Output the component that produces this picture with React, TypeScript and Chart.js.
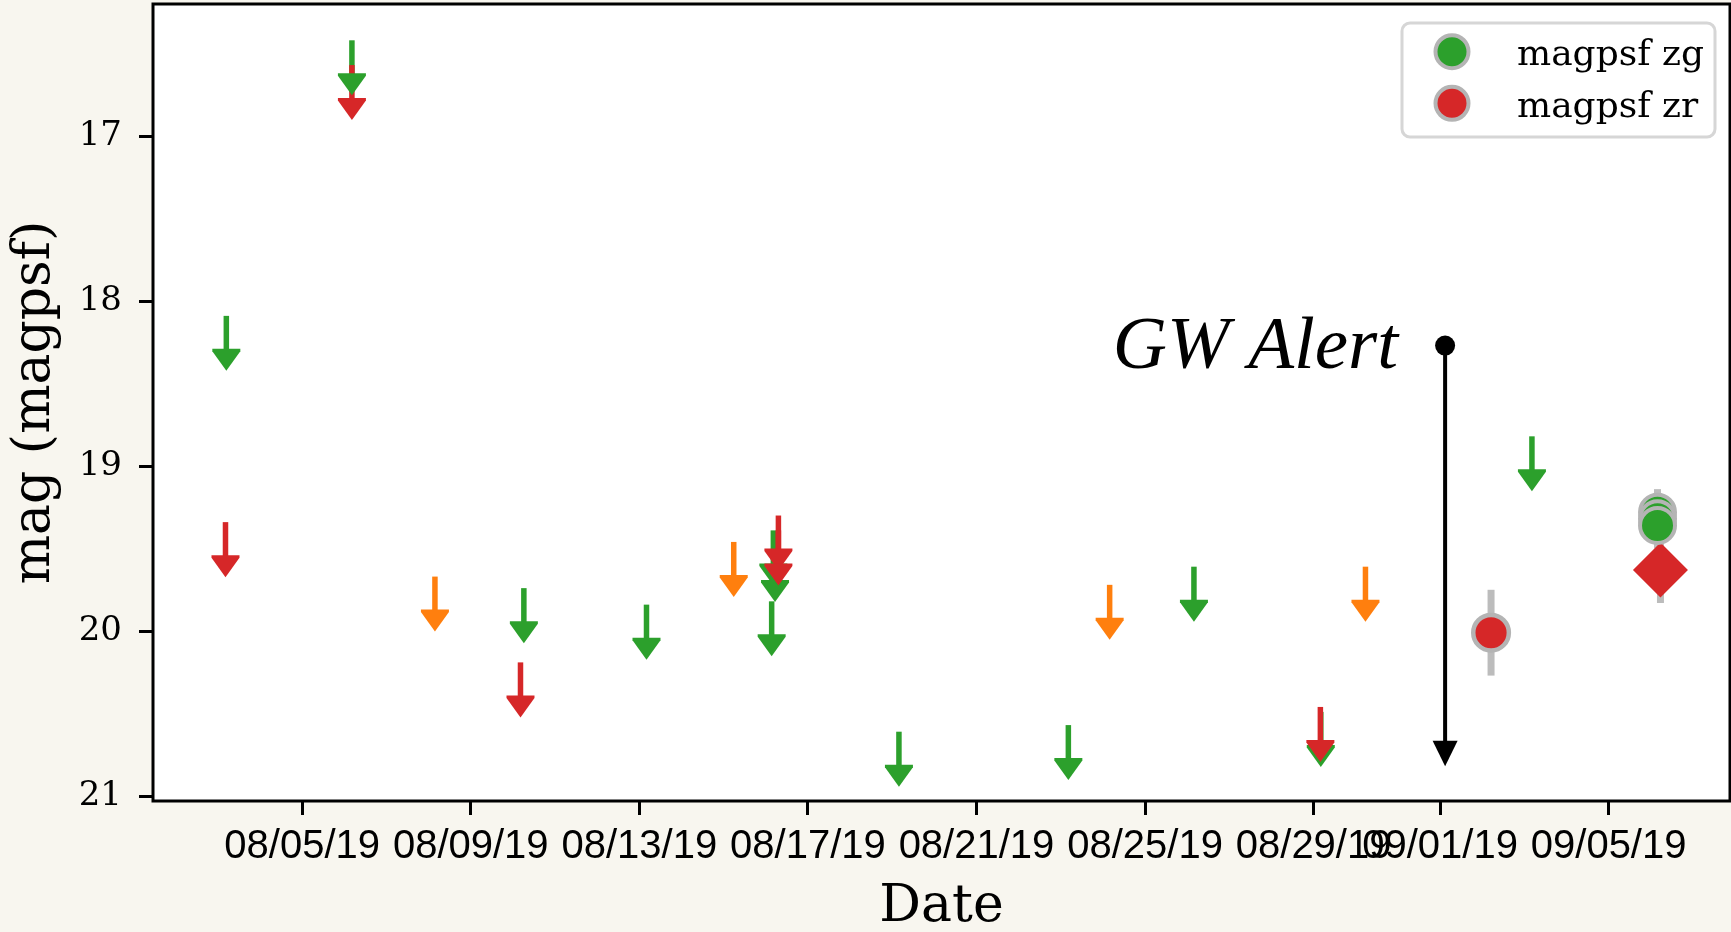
import { useEffect, useRef } from 'react';
import { Chart, registerables } from 'chart.js';

Chart.register(...registerables);

// Days are counted from 31 July 2019 (1 = Aug 1, 32 = Sep 1).
const TICK_DAYS = [5, 9, 13, 17, 21, 25, 29, 32, 36];
const TICK_LABELS = ['08/05/19', '08/09/19', '08/13/19', '08/17/19', '08/21/19', '08/25/19', '08/29/19', '09/01/19', '09/05/19'];
const MAG_TICKS = [17, 18, 19, 20, 21];

const X_MIN = 1.46;
const X_MAX = 38.88;
const Y_MIN = 16.2;
const Y_MAX = 21.03;

// Non-detection upper limits (top of each arrow)
const ZG_LIMIT_DAYS = [3.2, 6.18, 10.26, 13.17, 16.18, 16.22, 16.14, 19.16, 23.18, 26.16, 29.17, 34.18];
const ZG_LIMIT_MAGS = [18.09, 16.42, 19.74, 19.84, 19.39, 19.49, 19.82, 20.61, 20.57, 19.61, 20.49, 18.82];
const ZR_LIMIT_DAYS = [3.18, 6.18, 10.18, 16.3, 16.3, 29.16];
const ZR_LIMIT_MAGS = [19.34, 16.57, 20.19, 19.3, 19.39, 20.46];
const ZI_LIMIT_DAYS = [8.15, 15.24, 24.16, 30.23];
const ZI_LIMIT_MAGS = [19.67, 19.46, 19.72, 19.61];

// Detections with 1-sigma errors
const ZG_DAYS = [37.16, 37.16, 37.16];
const ZG_MAGS = [19.28, 19.32, 19.36];
const ZG_ERRS = [0.14, 0.14, 0.14];
const ZR_DAYS = [33.21];
const ZR_MAGS = [20.01];
const ZR_ERRS = [0.26];
const ZR_FORCED_DAYS = [37.23];
const ZR_FORCED_MAGS = [19.63];
const ZR_FORCED_ERRS = [0.2];

// Gravitational-wave alert marker
const ALERT_DAY = 32.12;
const ALERT_MAG_FROM = 18.27;
const ALERT_MAG_TO = 20.82;
const ALERT_TEXT = 'GW Alert';

const GREEN = '#2ca02c';
const RED = '#d62728';
const ORANGE = '#ff7f0e';
const EDGE = '#b4b4b4';
const PAGE_BG = '#f8f6ef';

const toPoints = (days: number[], mags: number[]) => days.map((d, i) => ({ x: d, y: mags[i] }));

function drawShaft(ctx: CanvasRenderingContext2D, x: number, y: number, color: string) {
  ctx.fillStyle = color;
  ctx.fillRect(x - 2.75, y, 5.5, 34);
}

function drawHead(ctx: CanvasRenderingContext2D, x: number, y: number, color: string) {
  ctx.fillStyle = color;
  ctx.beginPath();
  ctx.moveTo(x - 14, y + 33);
  ctx.lineTo(x + 14, y + 33);
  ctx.lineTo(x + 14, y + 35.5);
  ctx.lineTo(x, y + 55);
  ctx.lineTo(x - 14, y + 35.5);
  ctx.closePath();
  ctx.fill();
}

const lightcurvePlugin = {
  id: 'lightcurve',
  beforeDraw(chart: any) {
    const { ctx, chartArea: a } = chart;
    ctx.save();
    ctx.fillStyle = '#ffffff';
    ctx.fillRect(a.left, a.top, a.right - a.left, a.bottom - a.top);
    ctx.restore();
  },
  beforeDatasetsDraw(chart: any) {
    const { ctx } = chart;
    const ys = chart.scales.y;
    ctx.save();
    ctx.strokeStyle = '#bcbcbc';
    ctx.lineWidth = 7;
    chart.data.datasets.forEach((ds: any, i: number) => {
      if (!ds.errors) return;
      const meta = chart.getDatasetMeta(i);
      meta.data.forEach((pt: any, j: number) => {
        const m = ds.data[j].y;
        const e = ds.errors[j];
        ctx.beginPath();
        ctx.moveTo(pt.x, ys.getPixelForValue(m - e));
        ctx.lineTo(pt.x, ys.getPixelForValue(m + e));
        ctx.stroke();
      });
    });
    ctx.restore();
  },
  afterDatasetsDraw(chart: any) {
    const { ctx, chartArea: a } = chart;
    const xs = chart.scales.x;
    const ys = chart.scales.y;
    ctx.save();

    // upper-limit arrows: all shafts first, then all heads
    const limitSets = chart.data.datasets
      .map((ds: any, i: number) => ({ ds, meta: chart.getDatasetMeta(i) }))
      .filter((o: any) => o.ds.limit);
    for (const o of limitSets) {
      o.meta.data.forEach((pt: any) => drawShaft(ctx, pt.x, pt.y, o.ds.arrowColor));
    }
    for (const o of limitSets) {
      o.meta.data.forEach((pt: any) => drawHead(ctx, pt.x, pt.y, o.ds.arrowColor));
    }

    // GW alert annotation
    const ax = xs.getPixelForValue(ALERT_DAY);
    const ay0 = ys.getPixelForValue(ALERT_MAG_FROM);
    const ay1 = ys.getPixelForValue(ALERT_MAG_TO);
    ctx.strokeStyle = '#000';
    ctx.fillStyle = '#000';
    ctx.lineWidth = 4;
    ctx.beginPath();
    ctx.moveTo(ax, ay0);
    ctx.lineTo(ax, ay1 - 24);
    ctx.stroke();
    ctx.beginPath();
    ctx.moveTo(ax - 12.5, ay1 - 25.5);
    ctx.lineTo(ax + 12.5, ay1 - 25.5);
    ctx.lineTo(ax, ay1);
    ctx.closePath();
    ctx.fill();
    ctx.beginPath();
    ctx.arc(ax, ay0, 10, 0, Math.PI * 2);
    ctx.fill();
    ctx.font = 'italic 75px "Liberation Serif"';
    ctx.textAlign = 'right';
    ctx.textBaseline = 'alphabetic';
    ctx.fillText(ALERT_TEXT, ax - 47, ay0 + 22);

    // axes frame
    ctx.strokeStyle = '#000';
    ctx.lineWidth = 3;
    ctx.strokeRect(a.left, a.top, a.right - a.left, a.bottom - a.top);
    ctx.restore();
  },
  afterDraw(chart: any) {
    const { ctx } = chart;
    const entries = chart.data.datasets.filter((ds: any) => ds.legendLabel);
    const bx = 1402;
    const by = 23;
    const bw = 313;
    const bh = 114;
    ctx.save();
    ctx.beginPath();
    ctx.roundRect(bx, by, bw, bh, 8);
    ctx.fillStyle = 'rgba(255,255,255,0.85)';
    ctx.fill();
    ctx.strokeStyle = '#d6d6d6';
    ctx.lineWidth = 3;
    ctx.stroke();
    entries.forEach((ds: any, k: number) => {
      const cy = 51.7 + k * 51.6;
      ctx.beginPath();
      ctx.arc(1452, cy, 16.5, 0, Math.PI * 2);
      ctx.fillStyle = ds.backgroundColor;
      ctx.fill();
      ctx.lineWidth = 4;
      ctx.strokeStyle = EDGE;
      ctx.stroke();
      ctx.fillStyle = '#000';
      ctx.font = '36px "DejaVu Serif"';
      ctx.textAlign = 'left';
      ctx.textBaseline = 'alphabetic';
      ctx.fillText(ds.legendLabel, 1517, cy + 13.5);
    });
    ctx.restore();
  },
};

export default function App() {
  const canvasRef = useRef<HTMLCanvasElement | null>(null);

  useEffect(() => {
    document.body.style.margin = '0';
    document.body.style.overflow = 'hidden';
    document.body.style.background = PAGE_BG;
    const canvas = canvasRef.current;
    if (!canvas) return;

    const chart = new Chart(canvas, {
      type: 'scatter',
      data: {
        datasets: [
          { label: 'zg limits', data: toPoints(ZG_LIMIT_DAYS, ZG_LIMIT_MAGS), pointRadius: 0, limit: true, arrowColor: GREEN } as any,
          { label: 'zr limits', data: toPoints(ZR_LIMIT_DAYS, ZR_LIMIT_MAGS), pointRadius: 0, limit: true, arrowColor: RED } as any,
          { label: 'zi limits', data: toPoints(ZI_LIMIT_DAYS, ZI_LIMIT_MAGS), pointRadius: 0, limit: true, arrowColor: ORANGE } as any,
          {
            label: 'magpsf zg', legendLabel: 'magpsf zg', data: toPoints(ZG_DAYS, ZG_MAGS), errors: ZG_ERRS,
            pointStyle: 'circle', pointRadius: 17.5, backgroundColor: GREEN, borderColor: EDGE, borderWidth: 4,
          } as any,
          {
            label: 'magpsf zr', legendLabel: 'magpsf zr', data: toPoints(ZR_DAYS, ZR_MAGS), errors: ZR_ERRS,
            pointStyle: 'circle', pointRadius: 17.8, backgroundColor: RED, borderColor: EDGE, borderWidth: 4.5,
          } as any,
          {
            label: 'forced zr', data: toPoints(ZR_FORCED_DAYS, ZR_FORCED_MAGS), errors: ZR_FORCED_ERRS,
            pointStyle: 'rectRot', pointRadius: 27.5, backgroundColor: RED, borderColor: RED, borderWidth: 0,
          } as any,
        ],
      },
      options: {
        responsive: false,
        animation: false,
        events: [],
        layout: { autoPadding: false, padding: { top: 4, right: 1, left: 0, bottom: 0 } },
        plugins: { legend: { display: false }, tooltip: { enabled: false } },
        scales: {
          x: {
            type: 'linear',
            min: X_MIN,
            max: X_MAX,
            afterBuildTicks: (s: any) => { s.ticks = TICK_DAYS.map((v) => ({ value: v })); },
            afterFit: (s: any) => { s.height = 131; s.paddingLeft = 0; s.paddingRight = 0; },
            ticks: {
              autoSkip: false, maxRotation: 0, minRotation: 0, padding: 8, color: '#000',
              font: { family: 'Liberation Sans', size: 40 },
              callback: (_v: any, i: number) => TICK_LABELS[i],
            },
            grid: { display: true, drawOnChartArea: false, drawTicks: true, tickLength: 14, tickWidth: 3, tickColor: '#000' },
            border: { display: false },
            title: { display: true, text: 'Date', color: '#000', font: { family: 'DejaVu Serif', size: 52, lineHeight: 0.96 }, padding: 0 },
          },
          y: {
            type: 'linear',
            reverse: true,
            min: Y_MIN,
            max: Y_MAX,
            afterBuildTicks: (s: any) => { s.ticks = MAG_TICKS.map((v) => ({ value: v })); },
            afterFit: (s: any) => { s.width = 153; s.paddingTop = 0; s.paddingBottom = 0; },
            ticks: {
              padding: 17, color: '#000',
              font: { family: 'DejaVu Serif', size: 34 },
              callback: (v: any) => String(v),
            },
            grid: { display: true, drawOnChartArea: false, drawTicks: true, tickLength: 14, tickWidth: 3, tickColor: '#000' },
            border: { display: false },
            title: { display: true, text: 'mag (magpsf)', color: '#000', font: { family: 'DejaVu Serif', size: 52, lineHeight: 1.2 }, padding: { top: 4, bottom: 0 } },
          },
        },
      } as any,
      plugins: [lightcurvePlugin],
    });

    return () => chart.destroy();
  }, []);

  return (
    <div style={{ width: 1731, height: 932, background: PAGE_BG }}>
      <canvas ref={canvasRef} width={1731} height={932} style={{ display: 'block' }} />
    </div>
  );
}
